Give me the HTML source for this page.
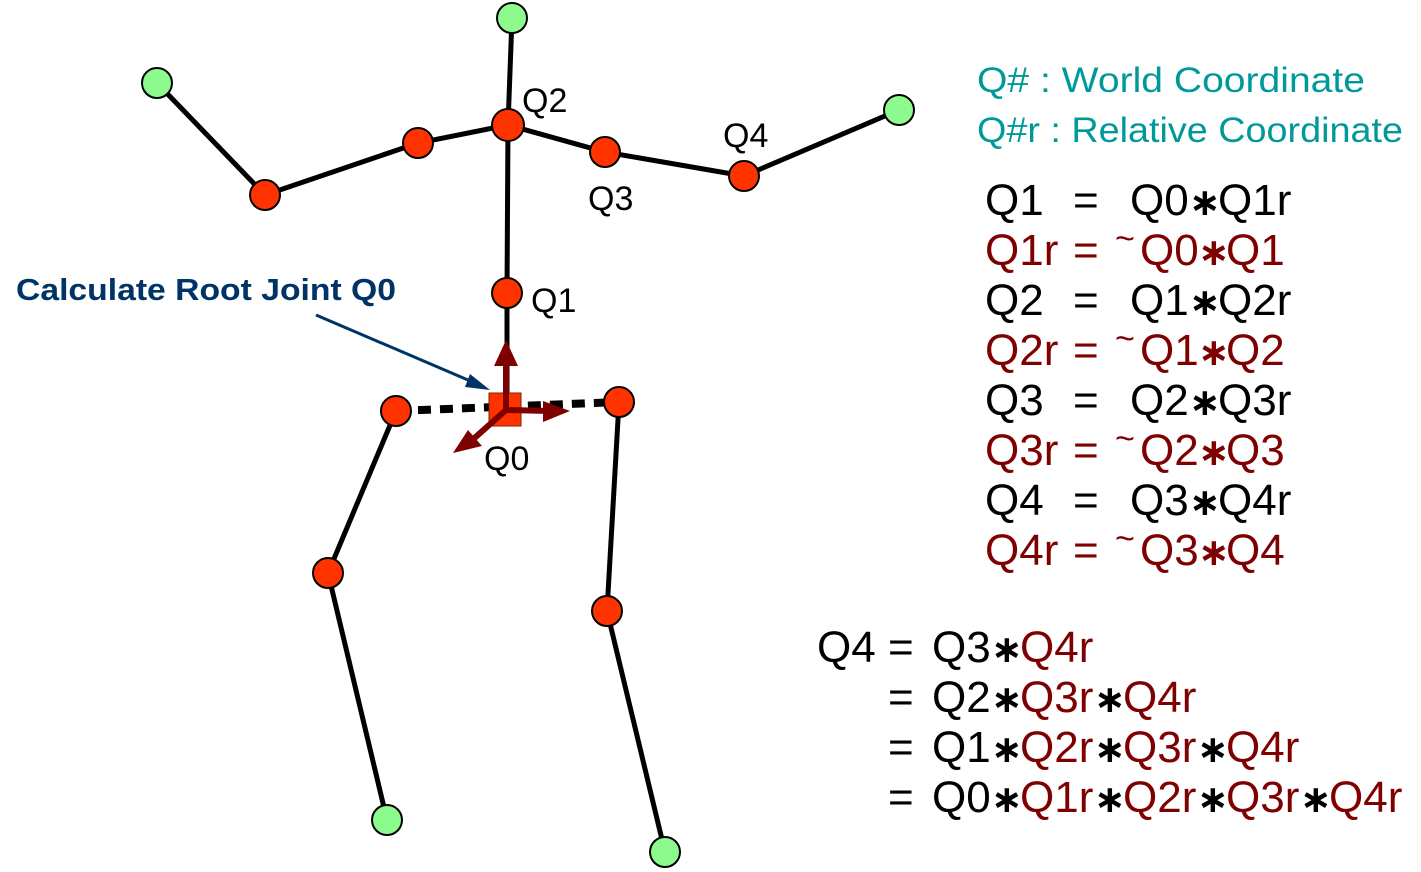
<!DOCTYPE html>
<html><head><meta charset="utf-8"><style>
html,body{margin:0;padding:0;background:#fff;}
svg{display:block;}
text{font-family:"Liberation Sans",sans-serif;}
.e{font-size:44px;}
.k{fill:#000;}
.r{fill:#7f0000;}
.s{font-family:"DejaVu Sans",sans-serif;font-size:38px;font-weight:bold;}
</style></head><body>
<svg width="1421" height="872" viewBox="0 0 1421 872" xmlns="http://www.w3.org/2000/svg">
<g stroke="#000" stroke-width="5" fill="none">
<polyline points="157,83 265,195 418,143 508,125 605,152 744,176 899,110"/>
<polyline points="512,18 508,125 507,293 507,400"/>
<polyline points="396,411 328,573 387,820"/>
<polyline points="619,402 607,611 665,852"/>
<line x1="396" y1="411" x2="619" y2="402" stroke-width="8" stroke-dasharray="13 9"/>
</g>
<g stroke="#000" stroke-width="2" fill="#8cfa8c">
<circle cx="157" cy="83" r="15"/><circle cx="512" cy="18" r="15"/><circle cx="899" cy="110" r="15"/>
<circle cx="387" cy="820" r="15"/><circle cx="665" cy="852" r="15"/>
</g>
<g stroke="#000" stroke-width="2" fill="#ff3300">
<circle cx="265" cy="195" r="15"/><circle cx="418" cy="143" r="15"/><circle cx="508" cy="125" r="16"/>
<circle cx="605" cy="152" r="15"/><circle cx="744" cy="176" r="15"/><circle cx="507" cy="293" r="15"/>
<circle cx="396" cy="411" r="15"/><circle cx="619" cy="402" r="15"/><circle cx="328" cy="573" r="15"/>
<circle cx="607" cy="611" r="15"/>
</g>
<rect x="489" y="393" width="32" height="33" fill="#ff3300" stroke="#7f2000" stroke-width="1"/>
<g stroke="#7f0000" stroke-width="6" fill="#7f0000">
<line x1="506" y1="410" x2="506" y2="360"/>
<line x1="506" y1="410" x2="550" y2="411"/>
<line x1="506" y1="410" x2="470" y2="442"/>
</g>
<g fill="#7f0000">
<polygon points="506,340 494,366 518,366"/>
<polygon points="570,411 543,401 543,422"/>
<polygon points="453,453 482,446 468,430"/>
</g>
<line x1="316" y1="315" x2="475" y2="383" stroke="#003366" stroke-width="3"/>
<polygon points="490,390 470,374 465,387" fill="#003366"/>
<text x="16" y="300" font-size="31" fill="#003366" font-weight="bold" textLength="380" lengthAdjust="spacingAndGlyphs">Calculate Root Joint Q0</text>
<g font-size="34" fill="#000">
<text x="522" y="112">Q2</text><text x="588" y="210">Q3</text><text x="723" y="147">Q4</text>
<text x="531" y="312">Q1</text><text x="484" y="470">Q0</text>
</g>
<text x="977" y="92" font-size="35" fill="#009999" textLength="388" lengthAdjust="spacingAndGlyphs">Q#  : World Coordinate</text>
<text x="977" y="142" font-size="35" fill="#009999" textLength="426" lengthAdjust="spacingAndGlyphs">Q#r : Relative Coordinate</text>

<g class="e">
<text class="k" x="985" y="215">Q1</text><text class="k" x="1073" y="215">=</text><text class="k" x="1130" y="215">Q0</text><text class="k s" x="1189" y="215">∗</text><text class="k" x="1218" y="215">Q1r</text>
<text class="r" x="985" y="265">Q1r</text><text class="r" x="1073" y="265">=</text><text class="r" x="1115" y="250" font-size="34">~</text><text class="r" x="1140" y="265">Q0</text><text class="r s" x="1198" y="265">∗</text><text class="r" x="1226" y="265">Q1</text>
<text class="k" x="985" y="315">Q2</text><text class="k" x="1073" y="315">=</text><text class="k" x="1130" y="315">Q1</text><text class="k s" x="1189" y="315">∗</text><text class="k" x="1218" y="315">Q2r</text>
<text class="r" x="985" y="365">Q2r</text><text class="r" x="1073" y="365">=</text><text class="r" x="1115" y="350" font-size="34">~</text><text class="r" x="1140" y="365">Q1</text><text class="r s" x="1198" y="365">∗</text><text class="r" x="1226" y="365">Q2</text>
<text class="k" x="985" y="415">Q3</text><text class="k" x="1073" y="415">=</text><text class="k" x="1130" y="415">Q2</text><text class="k s" x="1189" y="415">∗</text><text class="k" x="1218" y="415">Q3r</text>
<text class="r" x="985" y="465">Q3r</text><text class="r" x="1073" y="465">=</text><text class="r" x="1115" y="450" font-size="34">~</text><text class="r" x="1140" y="465">Q2</text><text class="r s" x="1198" y="465">∗</text><text class="r" x="1226" y="465">Q3</text>
<text class="k" x="985" y="515">Q4</text><text class="k" x="1073" y="515">=</text><text class="k" x="1130" y="515">Q3</text><text class="k s" x="1189" y="515">∗</text><text class="k" x="1218" y="515">Q4r</text>
<text class="r" x="985" y="565">Q4r</text><text class="r" x="1073" y="565">=</text><text class="r" x="1115" y="550" font-size="34">~</text><text class="r" x="1140" y="565">Q3</text><text class="r s" x="1198" y="565">∗</text><text class="r" x="1226" y="565">Q4</text>

<text class="k" x="817" y="662">Q4</text><text class="k" x="888" y="662">=</text><text class="k" x="932" y="662">Q3</text><text class="k s" x="991" y="662">∗</text><text class="r" x="1020" y="662">Q4r</text>
<text class="k" x="888" y="712">=</text><text class="k" x="932" y="712">Q2</text><text class="k s" x="991" y="712">∗</text><text class="r" x="1020" y="712">Q3r</text><text class="k s" x="1094" y="712">∗</text><text class="r" x="1123" y="712">Q4r</text>
<text class="k" x="888" y="762">=</text><text class="k" x="932" y="762">Q1</text><text class="k s" x="991" y="762">∗</text><text class="r" x="1020" y="762">Q2r</text><text class="k s" x="1094" y="762">∗</text><text class="r" x="1123" y="762">Q3r</text><text class="k s" x="1197" y="762">∗</text><text class="r" x="1226" y="762">Q4r</text>
<text class="k" x="888" y="812">=</text><text class="k" x="932" y="812">Q0</text><text class="k s" x="991" y="812">∗</text><text class="r" x="1020" y="812">Q1r</text><text class="k s" x="1094" y="812">∗</text><text class="r" x="1123" y="812">Q2r</text><text class="k s" x="1197" y="812">∗</text><text class="r" x="1226" y="812">Q3r</text><text class="k s" x="1300" y="812">∗</text><text class="r" x="1329" y="812">Q4r</text>
</g>
</svg>
</body></html>
